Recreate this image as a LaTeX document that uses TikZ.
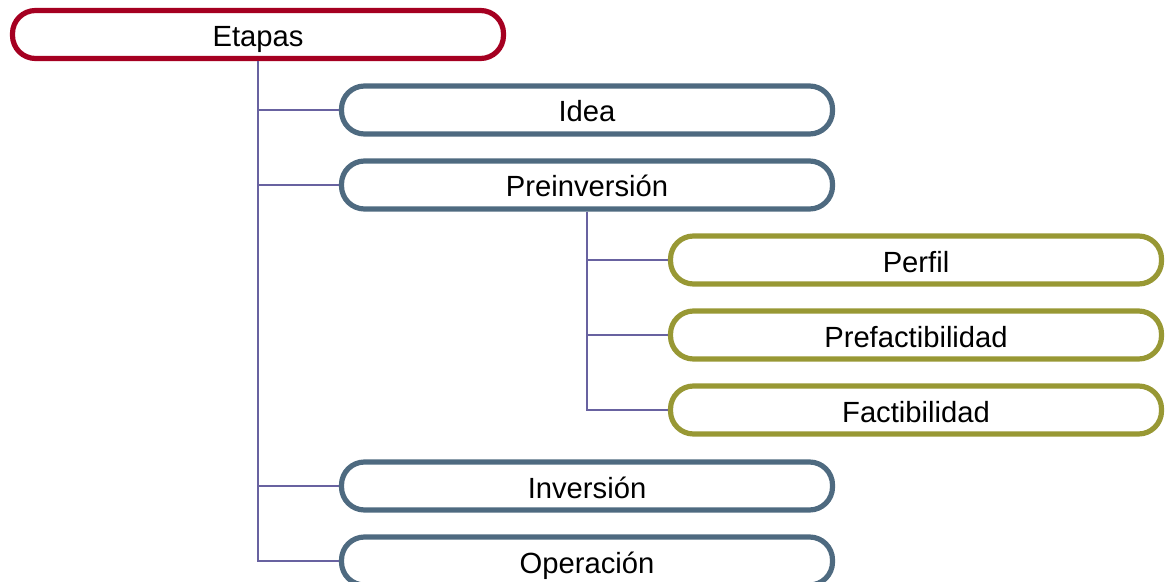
\documentclass[tikz,border=0pt]{standalone}
\usepackage{fontspec}
\setmainfont{Liberation Sans}
\definecolor{rojo}{RGB}{165,0,33}
\definecolor{pizarra}{RGB}{78,106,128}
\definecolor{oliva}{RGB}{152,152,52}
\definecolor{enlace}{RGB}{104,98,160}
\begin{document}
\begin{tikzpicture}[x=0.5pt,y=-0.5pt,
  caja/.style={rectangle, rounded corners=11.5pt, line width=2.6pt, fill=white,
    minimum width=245.5pt, minimum height=24pt, inner sep=0pt,
    text height=12pt, text depth=0pt,
    font=\fontsize{14.6pt}{17pt}\selectfont},
  enlace/.style={draw=enlace, line width=1pt}]
\useasboundingbox (0,0) rectangle (1170,582);
\clip (0,0) rectangle (1170,582);
% Etapas
\node[caja, draw=rojo] (etapas) at (258,34.5) {Etapas};
% primer nivel
\node[caja, draw=pizarra] (idea) at (587,110) {Idea};
\node[caja, draw=pizarra] (preinv) at (587,185) {Preinversión};
\node[caja, draw=pizarra] (inv) at (587,486) {Inversión};
\node[caja, draw=pizarra] (oper) at (587,561) {Operación};
% segundo nivel
\node[caja, draw=oliva] (perfil) at (916,260) {Perfil};
\node[caja, draw=oliva] (prefact) at (916,335) {Prefactibilidad};
\node[caja, draw=oliva] (fact) at (916,410) {Factibilidad};
% enlaces
\draw[enlace] (etapas.south) |- (idea.west);
\draw[enlace] (etapas.south) |- (preinv.west);
\draw[enlace] (etapas.south) |- (inv.west);
\draw[enlace] (etapas.south) |- (oper.west);
\draw[enlace] (preinv.south) |- (perfil.west);
\draw[enlace] (preinv.south) |- (prefact.west);
\draw[enlace] (preinv.south) |- (fact.west);
\end{tikzpicture}
\end{document}
